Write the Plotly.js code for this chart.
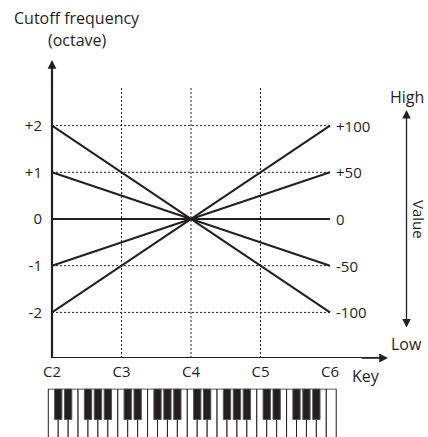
<!DOCTYPE html>
<html>
<head>
<meta charset="utf-8">
<script src="https://cdn.plot.ly/plotly-3.0.1.min.js"></script>
<style>html,body{margin:0;padding:0;background:#fff;}#chart{width:428px;height:437px;}</style>
</head>
<body>
<div id="chart"></div>
<script>
// ---- data ----
const keyLabels = ['C2', 'C3', 'C4', 'C5', 'C6'];
const keyPos = [0, 1, 2, 3, 4];              // octave index of each C
const lineKeys = [0, 2, 4];                  // C2, C4, C6
const seriesP2 = [2, 0, -2];
const seriesP1 = [1, 0, -1];
const seriesZero = [0, 0, 0];
const seriesM1 = [-1, 0, 1];
const seriesM2 = [-2, 0, 2];
const yTickVals = [-2, -1, 0, 1, 2];
const yTickText = ['-2', '-1', '0', '+1', '+2'];
const valueLevels = [2, 1, 0, -1, -2];
const valueText = ['+100', '+50', '0', '-50', '-100'];

// ---- styling / geometry ----
const INK = '#231f20';
const FONT = 'Open Sans, sans-serif';
const W = 428, H = 437;
const L = 44;                       // left margin
const pxPerOct = 69.5, pxPerUnit = 46.7;
const c2px = 52, zeroPx = 219, axisPx = 358;
const x0 = -(c2px - L) / pxPerOct;
const x1 = x0 + (W - L) / pxPerOct;
const yTop = zeroPx / pxPerUnit;
const yBot = -(axisPx - zeroPx) / pxPerUnit;
const mainDomLo = (H - axisPx) / H;
const kbTopPx = 388.5;
const kbDomHi = (H - kbTopPx) / H;
const toX = px => (px - c2px) / pxPerOct;
const toY = py => (zeroPx - py) / pxPerUnit;
const toPaperY = py => (H - py) / H;

const traces = [];
[seriesP2, seriesP1, seriesZero, seriesM1, seriesM2].forEach(s => {
  traces.push({
    type: 'scatter', mode: 'lines', x: lineKeys, y: s,
    line: {color: INK, width: 2}, hoverinfo: 'skip', showlegend: false,
    xaxis: 'x', yaxis: 'y'
  });
});

// keyboard: 4 octaves + top C
const whiteStart = toX(48.3);
const wk = 1 / 7;
const nWhite = keyPos.length * 7 - 6;  // 29
const wx = [], wy = [];
for (let i = 0; i < nWhite; i++) { wx.push(whiteStart + wk * (i + 0.5)); wy.push(1); }
const bx = [], by = [], bbase = [];
const blackAfter = [0, 1, 3, 4, 5];
const blackBase = 1 - (419 - kbTopPx) / (H - kbTopPx);
for (let o = 0; o < keyPos.length - 1; o++) {
  blackAfter.forEach(k => {
    bx.push(whiteStart + wk * (o * 7 + k + 1));
    by.push(1 - blackBase); bbase.push(blackBase);
  });
}
traces.push({
  type: 'bar', x: wx, y: wy, base: 0, width: wk, xaxis: 'x2', yaxis: 'y2',
  marker: {color: '#ffffff', line: {color: INK, width: 1}},
  hoverinfo: 'skip', showlegend: false
});
traces.push({
  type: 'bar', x: bx, y: by, base: bbase, width: 0.105, xaxis: 'x2', yaxis: 'y2',
  marker: {color: INK, line: {color: '#555555', width: 1}},
  hoverinfo: 'skip', showlegend: false
});

const shapes = [];
const gridTop = toY(86);
// vertical dotted grid at C3, C4, C5
keyPos.slice(1, -1).forEach(v => shapes.push({
  type: 'line', xref: 'x', yref: 'y', x0: v, x1: v, y0: yBot, y1: gridTop,
  line: {color: INK, width: 1, dash: '2px,2px'}, layer: 'below'
}));
// horizontal dotted grid
yTickVals.filter(v => v !== 0).forEach(v => shapes.push({
  type: 'line', xref: 'x', yref: 'y', x0: keyPos[0], x1: keyPos[keyPos.length - 1], y0: v, y1: v,
  line: {color: INK, width: 1, dash: '2px,2px'}, layer: 'below'
}));
// axis lines
const yArrowTip = toY(60), xArrowTip = toX(388);
shapes.push({type: 'line', xref: 'x', yref: 'y', x0: 0, x1: 0, y0: yBot, y1: yArrowTip - 0.15,
  line: {color: INK, width: 2.2}});
shapes.push({type: 'line', xref: 'x', yref: 'y', x0: 0, x1: xArrowTip - 0.1, y0: yBot, y1: yBot,
  line: {color: INK, width: 2.2}});

const ann = [];
const txt = (text, x, y, size, extra) => Object.assign({
  text, x, y, xref: 'x', yref: 'paper', xanchor: 'center', yanchor: 'middle', showarrow: false,
  font: {family: FONT, size, color: INK}
}, extra || {});
// arrowheads for axes
ann.push({x: 0, y: yArrowTip, ax: 0, ay: yArrowTip - 0.6, xref: 'x', yref: 'y', axref: 'x', ayref: 'y',
  text: '', showarrow: true, arrowhead: 2, arrowsize: 1.1, arrowwidth: 1.6, arrowcolor: INK});
ann.push({x: xArrowTip, y: yBot, ax: xArrowTip - 0.4, ay: yBot, xref: 'x', yref: 'y', axref: 'x', ayref: 'y',
  text: '', showarrow: true, arrowhead: 2, arrowsize: 1.1, arrowwidth: 1.6, arrowcolor: INK});
// value double arrow
const vx = toX(406.5);
ann.push({x: vx, y: toY(110), ax: vx, ay: toY(329), xref: 'x', yref: 'y', axref: 'x', ayref: 'y',
  text: '', showarrow: true, arrowhead: 2, startarrowhead: 2, arrowside: 'end+start',
  arrowsize: 1.3, startarrowsize: 1.3, arrowwidth: 1.3, arrowcolor: INK});
// titles
ann.push(txt('Cutoff frequency', toX(77), toPaperY(18), 16));
ann.push(txt('(octave)', toX(77), toPaperY(40), 16));
ann.push(txt('High', toX(406.5), toPaperY(97), 16));
ann.push(txt('Low', toX(406.5), toPaperY(344), 16));
ann.push(txt('Key', toX(366), toPaperY(376), 16));
ann.push(txt('Value', toX(419), toPaperY(219), 15, {textangle: 90}));
// right value labels
valueLevels.forEach((v, i) => ann.push({
  text: valueText[i], x: keyPos[keyPos.length - 1], y: v, xref: 'x', yref: 'y',
  xanchor: 'left', yanchor: 'middle', xshift: 4, showarrow: false,
  font: {family: FONT, size: 15, color: INK}
}));

const layout = {
  width: W, height: H,
  margin: {l: L, r: 0, t: 0, b: 0, pad: 0},
  paper_bgcolor: '#fff', plot_bgcolor: 'rgba(0,0,0,0)',
  showlegend: false, barmode: 'overlay',
  font: {family: FONT, color: INK},
  xaxis: {range: [x0, x1], tickvals: keyPos, ticktext: keyLabels, showgrid: false, zeroline: false,
    showline: false, ticks: '', ticklabelstandoff: 3,
    tickfont: {family: FONT, size: 15, color: INK}, anchor: 'y', fixedrange: true},
  yaxis: {domain: [mainDomLo, 1], range: [yBot, yTop], tickvals: yTickVals, ticktext: yTickText,
    showgrid: false, zeroline: false, showline: false, ticks: '', ticklabelstandoff: 1,
    tickfont: {family: FONT, size: 15, color: INK}, anchor: 'x', fixedrange: true},
  xaxis2: {range: [x0, x1], visible: false, anchor: 'y2', fixedrange: true},
  yaxis2: {domain: [0, kbDomHi], range: [0.01, 1.01], visible: false, anchor: 'x2', fixedrange: true},
  shapes: shapes, annotations: ann
};
Plotly.newPlot('chart', traces, layout, {staticPlot: true, displayModeBar: false});
</script>
</body>
</html>
